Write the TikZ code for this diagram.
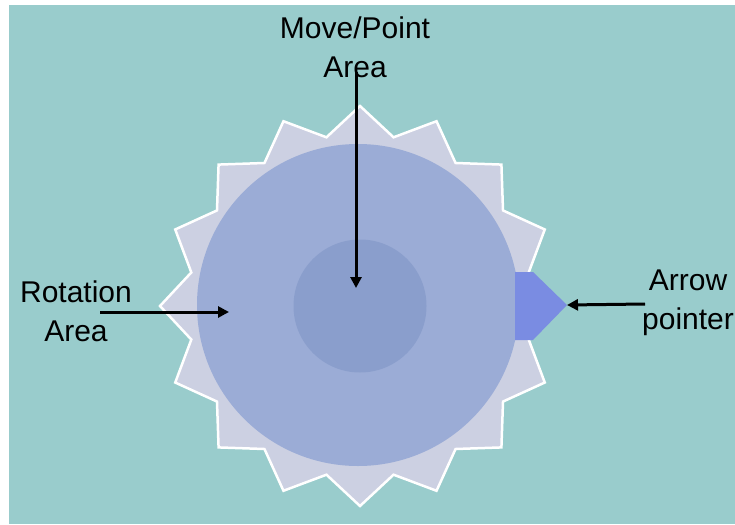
\documentclass[tikz,border=0pt]{standalone}
\usepackage{fontspec}
\setmainfont{Liberation Sans}
\usetikzlibrary{arrows.meta}
\definecolor{bgteal}{RGB}{153,204,204}
\definecolor{starfill}{RGB}{204,208,226}
\definecolor{bigdisc}{RGB}{155,172,214}
\definecolor{innerdisc}{RGB}{138,158,204}
\definecolor{ptrblue}{RGB}{122,140,226}
\tikzset{
  lbl/.style={align=center, inner sep=0pt, font=\fontsize{30}{39}\selectfont, text=black},
  callout/.style={line width=3pt, draw=black, -{Triangle[length=11pt,width=11pt]}},
  disc/.style={circle, draw=none, inner sep=0pt},
}
\begin{document}
\begin{tikzpicture}[x=1pt,y=-1pt]
\useasboundingbox (0,0) rectangle (735,524);
\fill[white] (0,0) rectangle (735,524);
\fill[bgteal] (9,5) rectangle (735,524);
% star
\path[fill=starfill, draw=white, line width=2.5pt, line join=miter, shift={(360,306)}]
  (90:200) foreach \k in {0,...,15} { -- ({90+\k*22.5+11.25}:172) -- ({90+(\k+1)*22.5}:200) } -- cycle;
% discs
\node[disc, fill=bigdisc, minimum size=322pt] (rotdisc) at (358,305) {};
\node[disc, fill=innerdisc, minimum size=133pt] (movedisc) at (360,306) {};
% arrow pointer
\fill[ptrblue] (515,272) -- (533,272) -- (567,305) -- (533,340) -- (515,340) -- cycle;
\coordinate (ptrtip) at (567,305);
% labels
\node[lbl] (movelbl) at (355,47) {Move/Point\\Area};
\node[lbl] (rotlbl) at (76,311) {Rotation\\Area};
\node[lbl] (ptrlbl) at (688,303) {Arrow\\pointer};
% callouts
\coordinate (movestart) at (356,72);
\coordinate (movetip) at (356,288);
\coordinate (rotstart) at (100,312);
\coordinate (rottip) at (229,312);
\coordinate (ptrstart) at (645,304);
\draw[callout] (movestart) -- (movetip);
\draw[callout] (rotstart) -- (rottip);
\draw[callout] (ptrstart) -- (ptrtip);
\end{tikzpicture}
\end{document}
